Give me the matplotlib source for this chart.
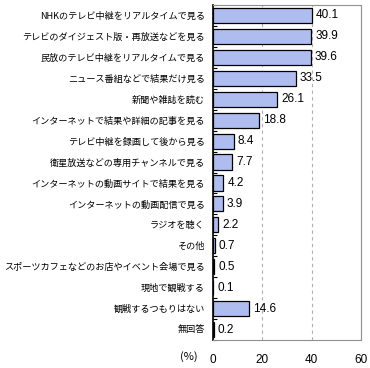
import matplotlib
matplotlib.use('Agg')
import numpy as np
import matplotlib.pyplot as plt

plt.rcParams['font.family'] = ['Noto Sans CJK JP', 'DejaVu Sans']

# 項目と割合(%)
labels = ['NHKのテレビ中継をリアルタイムで見る',
          'テレビのダイジェスト版・再放送などを見る',
          '民放のテレビ中継をリアルタイムで見る',
          'ニュース番組などで結果だけ見る',
          '新聞や雑誌を読む',
          'インターネットで結果や詳細の記事を見る',
          'テレビ中継を録画して後から見る',
          '衛星放送などの専用チャンネルで見る',
          'インターネットの動画サイトで結果を見る',
          'インターネットの動画配信で見る',
          'ラジオを聴く',
          'その他',
          'スポーツカフェなどのお店やイベント会場で見る',
          '現地で観戦する',
          '観戦するつもりはない',
          '無回答']
values = [40.1, 39.9, 39.6, 33.5, 26.1, 18.8, 8.4, 7.7, 4.2, 3.9, 2.2, 0.7, 0.5, 0.1, 14.6, 0.2]
xticks = [0, 20, 40, 60]

num_font = ['Liberation Sans', 'DejaVu Sans']

fig = plt.figure(figsize=(3.7, 3.68), dpi=100)
ax = fig.add_axes([0.5757, 0.0761, 0.4, 0.9103])

y = np.arange(len(labels))
ax.barh(y, values, height=0.72, color='#aebcf0', edgecolor='black', linewidth=0.9, zorder=3)
for yi, v in zip(y, values):
    ax.text(v + 1.6, yi, f'{v:.1f}', va='center', ha='left', fontsize=8.5,
            family=num_font, zorder=4)

ax.set_xlim(0, 60)
ax.set_ylim(len(labels) - 0.5, -0.5)
ax.set_xticks(xticks)
ax.set_xticklabels([str(t) for t in xticks], fontsize=8.5, family=num_font)
ax.tick_params(axis='x', length=0, pad=10)

ax.set_yticks(y)
ax.set_yticklabels(labels, fontsize=6.6)
ax.tick_params(axis='y', length=0, pad=6)
# 区切りの目盛り
ax.set_yticks(np.arange(len(labels) + 1) - 0.5, minor=True)
ax.tick_params(axis='y', which='minor', direction='in', length=3, width=0.8)

ax.xaxis.grid(True, linestyle=(0, (3, 3)), color='#b0b0b0', linewidth=0.8, zorder=0)
for s in ['top', 'right', 'bottom']:
    ax.spines[s].set_color('#909090')
ax.spines['left'].set_color('black')
ax.spines['left'].set_linewidth(1.2)

fig.text(0.487, 0.032, '(%)', fontsize=8, ha='left', va='center')

fig.savefig('out.png', dpi=100)
